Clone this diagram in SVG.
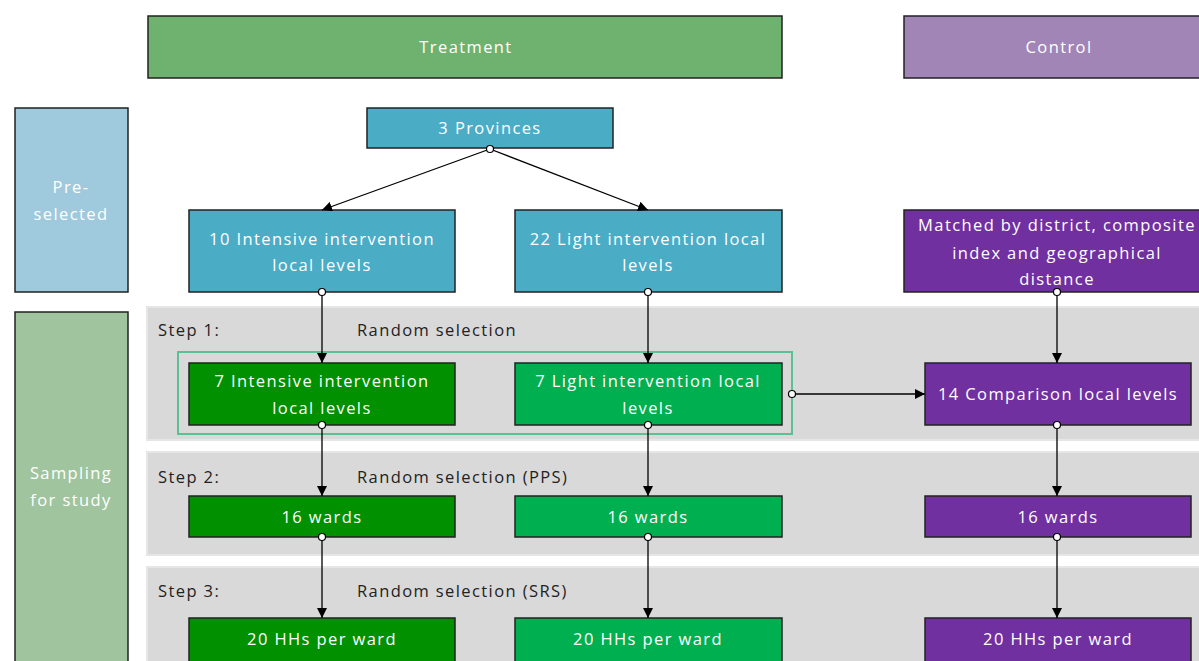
<svg xmlns="http://www.w3.org/2000/svg" width="1199" height="661" viewBox="0 0 1199 661">
<style>
text{font-family:"Open Sans","Liberation Sans",sans-serif;font-size:16.5px;letter-spacing:1.4px;text-anchor:middle;fill:#fff}
.n{stroke:#222;stroke-width:1.5}
.blue{fill:#4BACC6}.purple{fill:#7030A0}.dg{fill:#009000}.lg{fill:#00B050}
.band{fill:#D9D9D9;stroke:#E6E6E6;stroke-width:2}
.lbl{fill:#222;text-anchor:start}
.c{stroke:#000;stroke-width:1.3;fill:none}
.dot{fill:#fff;stroke:#000;stroke-width:1.2}
</style>
<defs>
<marker id="ah" viewBox="0 0 10 10" refX="10" refY="5" markerWidth="10" markerHeight="10" markerUnits="userSpaceOnUse" orient="auto"><path d="M0,0L10,5L0,10z" fill="#000"/></marker>
</defs>
<rect width="1199" height="661" fill="#fff"/>
<g id="bands">
<rect class="band" x="147" y="307" width="1060" height="133"/>
<rect class="band" x="147" y="452" width="1060" height="103"/>
<rect class="band" x="147" y="567" width="1060" height="100"/>
</g>
<g id="treatment"><rect class="n" x="148" y="16" width="634" height="62" fill="#6FB26F"/><text x="466" y="53" fill="#FFFDE8">Treatment</text></g>
<g id="control"><rect class="n" x="904" y="16" width="300" height="62" fill="#A185B6"/><text x="1059" y="53">Control</text></g>
<g id="preselected"><rect class="n" x="15" y="108" width="113" height="184" fill="#9FC9DC"/><text x="71" y="193" fill="#EEF6FA">Pre-</text><text x="71" y="220" fill="#EEF6FA">selected</text></g>
<g id="sampling"><rect class="n" x="15" y="312" width="113" height="354" fill="#A0C49E"/><text x="71" y="479" fill="#F4F8EE">Sampling</text><text x="71" y="506" fill="#F4F8EE">for study</text></g>
<g id="provinces"><rect class="n blue" x="367" y="108" width="246" height="40"/><text x="490" y="134">3 Provinces</text></g>
<g id="intensive10"><rect class="n blue" x="189" y="210" width="266" height="82"/><text x="322" y="245">10 Intensive intervention</text><text x="322" y="271">local levels</text></g>
<g id="light22"><rect class="n blue" x="515" y="210" width="267" height="82"/><text x="648" y="245">22 Light intervention local</text><text x="648" y="271">levels</text></g>
<g id="matched"><rect class="n purple" x="904" y="210" width="300" height="82"/><text x="1057" y="231">Matched by district, composite</text><text x="1057" y="259">index and geographical</text><text x="1057" y="285">distance</text></g>
<g id="steps">
<text class="lbl" x="158" y="336">Step 1:</text><text class="lbl" x="357" y="336">Random selection</text>
<text class="lbl" x="158" y="483">Step 2:</text><text class="lbl" x="357" y="483">Random selection (PPS)</text>
<text class="lbl" x="158" y="597">Step 3:</text><text class="lbl" x="357" y="597">Random selection (SRS)</text>
</g>
<g id="groupbox"><rect x="178" y="352" width="614" height="82" fill="none" stroke="#5DBF94" stroke-width="2"/></g>
<g id="intensive7"><rect class="n dg" x="189" y="363" width="266" height="62"/><text x="322" y="387">7 Intensive intervention</text><text x="322" y="414">local levels</text></g>
<g id="light7"><rect class="n lg" x="515" y="363" width="267" height="62"/><text x="648" y="387">7 Light intervention local</text><text x="648" y="414">levels</text></g>
<g id="comparison14"><rect class="n purple" x="925" y="363" width="266" height="62"/><text x="1058" y="400">14 Comparison local levels</text></g>
<g id="wards1"><rect class="n dg" x="189" y="496" width="266" height="41"/><text x="322" y="523">16 wards</text></g>
<g id="wards2"><rect class="n lg" x="515" y="496" width="267" height="41"/><text x="648" y="523">16 wards</text></g>
<g id="wards3"><rect class="n purple" x="925" y="496" width="266" height="41"/><text x="1058" y="523">16 wards</text></g>
<g id="hh1"><rect class="n dg" x="189" y="618" width="266" height="48"/><text x="322" y="645">20 HHs per ward</text></g>
<g id="hh2"><rect class="n lg" x="515" y="618" width="267" height="48"/><text x="648" y="645">20 HHs per ward</text></g>
<g id="hh3"><rect class="n purple" x="925" y="618" width="266" height="48"/><text x="1058" y="645">20 HHs per ward</text></g>
<g id="connectors">
<path class="c" marker-end="url(#ah)" d="M490,149L322,210"/>
<path class="c" marker-end="url(#ah)" d="M490,149L648,210"/>
<path class="c" marker-end="url(#ah)" d="M322,292V363"/>
<path class="c" marker-end="url(#ah)" d="M648,292V363"/>
<path class="c" marker-end="url(#ah)" d="M1057,292V363"/>
<path class="c" marker-end="url(#ah)" d="M792,394H925"/>
<path class="c" marker-end="url(#ah)" d="M322,425V496"/>
<path class="c" marker-end="url(#ah)" d="M648,425V496"/>
<path class="c" marker-end="url(#ah)" d="M1057,425V496"/>
<path class="c" marker-end="url(#ah)" d="M322,537V618"/>
<path class="c" marker-end="url(#ah)" d="M648,537V618"/>
<path class="c" marker-end="url(#ah)" d="M1057,537V618"/>
<circle class="dot" cx="490" cy="149" r="3.5"/>
<circle class="dot" cx="322" cy="292" r="3.5"/>
<circle class="dot" cx="648" cy="292" r="3.5"/>
<circle class="dot" cx="1057" cy="292" r="3.5"/>
<circle class="dot" cx="792" cy="394" r="3.5"/>
<circle class="dot" cx="322" cy="425" r="3.5"/>
<circle class="dot" cx="648" cy="425" r="3.5"/>
<circle class="dot" cx="1057" cy="425" r="3.5"/>
<circle class="dot" cx="322" cy="537" r="3.5"/>
<circle class="dot" cx="648" cy="537" r="3.5"/>
<circle class="dot" cx="1057" cy="537" r="3.5"/>
</g>
</svg>
